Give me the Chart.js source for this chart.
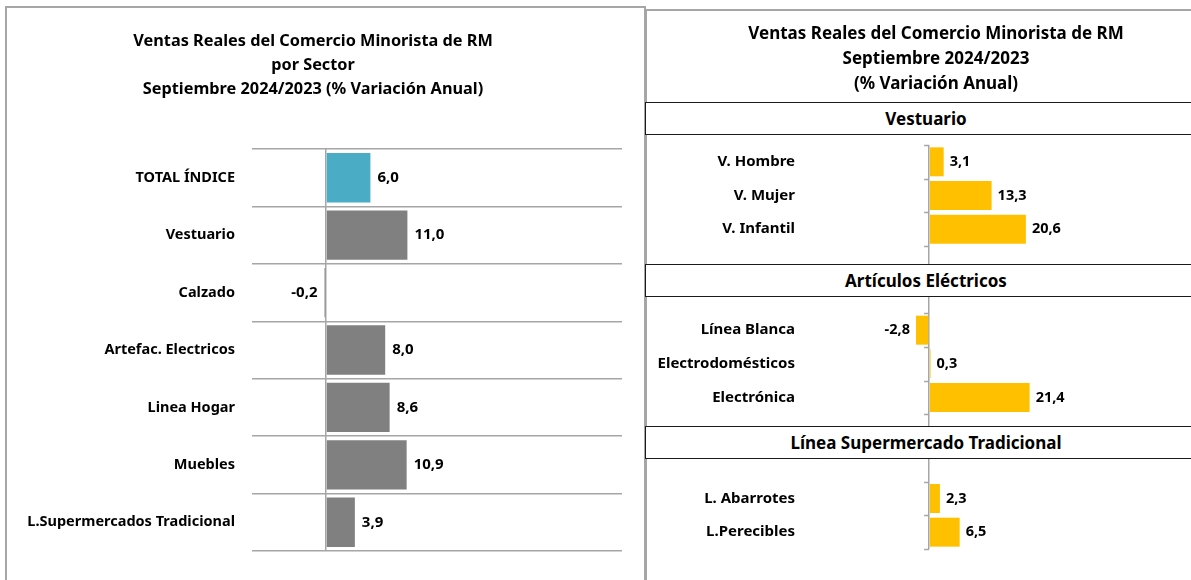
<!DOCTYPE html>
<html>
<head>
<meta charset="utf-8">
<script src="https://cdn.jsdelivr.net/npm/chart.js@4/dist/chart.umd.min.js"></script>
<style>
body { margin: 0; width: 1191px; height: 580px; overflow: hidden; background: #fff; position: relative; font-family: "Noto Sans", Lato, sans-serif; color: #000; }
.panel { position: absolute; border: 2px solid #a6a6a6; border-bottom: none; box-sizing: border-box; }
#panelIzq { left: 5px; top: 6px; width: 641px; height: 600px; }
#panelDer { left: 645px; top: 9px; width: 600px; height: 600px; }
.titulo { position: absolute; text-align: center; font-weight: bold; z-index: 3; }
#tituloIzq { left: 13px; top: 28px; width: 600px; font-size: 16.3px; line-height: 24px; }
#tituloDer { left: 736px; top: 20px; width: 400px; font-size: 17px; line-height: 25px; }
.seccion { position: absolute; left: 645px; width: 562px; height: 33px; line-height: 31px; background: #fff; border: 1.5px solid #1a1a1a; box-sizing: border-box; text-align: center; font-weight: bold; font-size: 17px; z-index: 3; }
canvas { position: absolute; }
#chartSector { left: 6px; top: 7px; }
#chartDetalle { left: 646px; top: 10px; }
</style>
</head>
<body>
<div class="panel" id="panelIzq"></div>
<div class="panel" id="panelDer"></div>
<div class="titulo" id="tituloIzq">Ventas Reales del Comercio Minorista de RM<br>por Sector<br>Septiembre 2024/2023 (% Variación Anual)</div>
<div class="titulo" id="tituloDer">Ventas Reales del Comercio Minorista de RM<br>Septiembre 2024/2023<br>(% Variación Anual)</div>
<canvas id="chartSector" width="638" height="573"></canvas>
<canvas id="chartDetalle" width="545" height="570"></canvas>
<script>
// datos - panel izquierdo
const sectores = ['TOTAL ÍNDICE', 'Vestuario', 'Calzado', 'Artefac. Electricos', 'Linea Hogar', 'Muebles', 'L.Supermercados Tradicional'];
const variacionSector = [6.0, 11.0, -0.2, 8.0, 8.6, 10.9, 3.9];

// datos - panel derecho (las filas vacías quedan bajo los títulos de sección)
const subsectores = ['V. Hombre', 'V. Mujer', 'V. Infantil', '', '', 'Línea Blanca', 'Electrodomésticos', 'Electrónica', '', '', 'L. Abarrotes', 'L.Perecibles'];
const variacionSubsector = [3.1, 13.3, 20.6, null, null, -2.8, 0.3, 21.4, null, null, 2.3, 6.5];
const secciones = ['Vestuario', 'Artículos Eléctricos', 'Línea Supermercado Tradicional'];
const topSecciones = [102, 264, 426];

secciones.forEach((s, i) => {
    const d = document.createElement('div');
    d.className = 'seccion';
    d.style.top = topSecciones[i] + 'px';
    d.textContent = s;
    document.body.appendChild(d);
});

const fmt = v => v.toFixed(1).replace('.', ',');
const gris = '#a6a6a6';
const fuente = '"Noto Sans"';

const etiquetasValor = {
    id: 'etiquetasValor',
    afterDatasetsDraw(chart, args, opts) {
        const ctx = chart.ctx;
        const meta = chart.getDatasetMeta(0);
        const data = chart.data.datasets[0].data;
        ctx.save();
        ctx.font = opts.font;
        ctx.fillStyle = '#000';
        ctx.textBaseline = 'middle';
        meta.data.forEach((bar, i) => {
            const v = data[i];
            if (v == null) return;
            if (v < 0) { ctx.textAlign = 'right'; ctx.fillText(fmt(v), bar.x - opts.gap, bar.y); }
            else { ctx.textAlign = 'left'; ctx.fillText(fmt(v), bar.x + opts.gap, bar.y); }
        });
        ctx.restore();
    }
};

// marcas cortas del eje vertical en cero (panel derecho)
const marcasEje = {
    id: 'marcasEje',
    afterDatasetsDraw(chart) {
        const ctx = chart.ctx;
        const x0 = chart.scales.x.getPixelForValue(0);
        const y = chart.scales.y;
        ctx.save();
        ctx.strokeStyle = gris;
        ctx.lineWidth = 1.5;
        for (let i = 0; i <= y.ticks.length; i++) {
            const py = Math.round(y.getPixelForValue(i - 0.5)) + 0.5;
            ctx.beginPath();
            ctx.moveTo(x0 - 5, py);
            ctx.lineTo(x0, py);
            ctx.stroke();
        }
        ctx.restore();
    }
};

new Chart(document.getElementById('chartSector'), {
    type: 'bar',
    data: {
        labels: sectores,
        datasets: [{
            data: variacionSector,
            backgroundColor: sectores.map((s, i) => i === 0 ? '#4bacc6' : '#808080'),
            barPercentage: 0.86,
            categoryPercentage: 1
        }]
    },
    options: {
        indexAxis: 'y',
        responsive: false,
        animation: false,
        layout: { padding: { top: 142, bottom: 29, right: 22, left: 0 } },
        plugins: {
            legend: { display: false },
            tooltip: { enabled: false },
            etiquetasValor: { font: 'bold 15px ' + fuente, gap: 7 }
        },
        scales: {
            x: {
                min: -10, max: 40,
                ticks: { display: false, stepSize: 10 },
                border: { display: false },
                grid: { drawTicks: false, lineWidth: 1.5, color: c => (c.tick && c.tick.value === 0) ? gris : 'rgba(0,0,0,0)' },
                afterFit: s => { s.height = 0; }
            },
            y: {
                ticks: { font: { family: 'Noto Sans', weight: 'bold', size: 14.5 }, color: '#000', padding: 17 },
                border: { display: false },
                grid: { drawTicks: false, color: gris, lineWidth: 1.5 },
                afterFit: s => { s.width = 246; }
            }
        }
    },
    plugins: [etiquetasValor]
});

new Chart(document.getElementById('chartDetalle'), {
    type: 'bar',
    data: {
        labels: subsectores,
        datasets: [{ data: variacionSubsector, backgroundColor: '#ffc000', barPercentage: 0.86, categoryPercentage: 1 }]
    },
    options: {
        indexAxis: 'y',
        responsive: false,
        animation: false,
        layout: { padding: { top: 135, bottom: 31, right: 74, left: 0 } },
        plugins: {
            legend: { display: false },
            tooltip: { enabled: false },
            etiquetasValor: { font: 'bold 14.5px ' + fuente, gap: 6 }
        },
        scales: {
            x: {
                min: -26, max: 40,
                ticks: { display: false, stepSize: 2 },
                border: { display: false },
                grid: { drawTicks: false, lineWidth: 1.5, color: c => (c.tick && c.tick.value === 0) ? gris : 'rgba(0,0,0,0)' },
                afterFit: s => { s.height = 0; }
            },
            y: {
                ticks: { font: { family: 'Noto Sans', weight: 'bold', size: 15 }, color: '#000', padding: 12, autoSkip: false },
                border: { display: false },
                grid: { display: false, drawTicks: false },
                afterFit: s => { s.width = 161; }
            }
        }
    },
    plugins: [etiquetasValor, marcasEje]
});
</script>
</body>
</html>
